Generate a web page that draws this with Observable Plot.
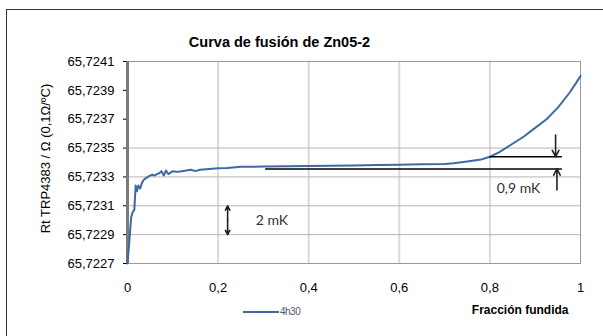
<!DOCTYPE html>
<html>
<head>
<meta charset="utf-8">
<script src="https://cdn.jsdelivr.net/npm/d3@7"></script>
<script src="https://cdn.jsdelivr.net/npm/@observablehq/plot@0.6"></script>
<style>
  html, body { margin: 0; padding: 0; background: #fff; overflow: hidden; }
  body { width: 603px; height: 336px; position: relative; font-family: "Liberation Sans", Arial, sans-serif; }
  #border { position: absolute; left: 6px; top: 9px; width: 800px; height: 500px; border: 1px solid #333; }
  #chart { position: absolute; left: 0; top: 0; }
  #legend { position: absolute; left: 243px; top: 306px; font-size: 10px; color: #556; display: flex; align-items: center; letter-spacing: -0.5px; }
  #legend span.sw { display: inline-block; width: 36px; height: 0; border-top: 2px solid #3d6aa3; margin-right: 1px; }
</style>
</head>
<body>
<div id="border"></div>
<div id="chart"></div>
<div id="legend"><span class="sw"></span><span>4h30</span></div>
<script>
// Melting curve data: melted fraction vs resistance (Ω)
const fraction = [0, 0.004, 0.008, 0.012, 0.015, 0.018, 0.021, 0.024, 0.028, 0.032, 0.036, 0.04, 0.045, 0.05, 0.055, 0.06, 0.065, 0.07, 0.075, 0.08, 0.085, 0.09, 0.095, 0.10, 0.11, 0.12, 0.13, 0.14, 0.15, 0.16, 0.18, 0.20, 0.22, 0.25, 0.28, 0.30, 0.35, 0.40, 0.45, 0.50, 0.55, 0.60, 0.65, 0.70, 0.72, 0.75, 0.78, 0.80, 0.82, 0.85, 0.875, 0.90, 0.925, 0.95, 0.975, 0.99, 1.0];
const resistance = [65.72270, 65.72285, 65.72302, 65.72306, 65.72307, 65.72324, 65.72320, 65.72324, 65.72322, 65.72326, 65.72328, 65.72329, 65.72330, 65.72331, 65.723315, 65.72331, 65.72332, 65.723325, 65.72334, 65.72331, 65.723345, 65.72332, 65.72333, 65.72334, 65.723335, 65.72334, 65.723345, 65.72335, 65.72334, 65.72335, 65.723355, 65.72336, 65.723362, 65.72337, 65.72337, 65.723372, 65.723374, 65.723376, 65.723378, 65.72338, 65.723383, 65.723385, 65.723388, 65.72339, 65.723395, 65.723407, 65.72342, 65.72344, 65.72347, 65.72353, 65.72358, 65.72364, 65.72370, 65.72378, 65.72388, 65.72395, 65.72400];

const yTicks = [65.7227, 65.7229, 65.7231, 65.7233, 65.7235, 65.7237, 65.7239, 65.7241];
const yGrid = [65.7229, 65.7231, 65.7233, 65.7235];
const xTicks = [0, 0.2, 0.4, 0.6, 0.8, 1];
const xGrid = [0.2, 0.4, 0.6, 0.8];

const titleText = "Curva de fusión de Zn05-2";
const yLabel = "Rt TRP4383 / Ω (0,1Ω/ºC)";
const xLabel = "Fracción fundida";
const seriesName = "4h30";

// annotations
const refLines = [
  {x1: 0.305, x2: 0.96, y: 65.723355},
  {x1: 0.80, x2: 0.96, y: 65.72344}
];
const arrows = [
  {x1: 0.945, y1: 65.72359, x2: 0.945, y2: 65.72344},
  {x1: 0.948, y1: 65.72321, x2: 0.948, y2: 65.723355},
  {x1: 0.221, y1: 65.7230, x2: 0.221, y2: 65.7231},
  {x1: 0.221, y1: 65.7230, x2: 0.221, y2: 65.7229}
];
const notes = [
  {x: 0.815, y: 65.72322, text: "0,9 mK"},
  {x: 0.283, y: 65.72300, text: "2 mK"}
];

const data = fraction.map((f, i) => ({f, r: resistance[i]}));
const fmt = d => d.toFixed(4).replace(".", ",");
const fmtX = d => String(d).replace(".", ",");

const chart = Plot.plot({
  width: 603,
  height: 336,
  marginLeft: 127,
  marginRight: 23,
  marginTop: 61,
  marginBottom: 73,
  style: {fontFamily: "Liberation Sans, Arial, sans-serif", fontSize: "12px", color: "#000", background: "transparent"},
  x: {domain: [0, 1]},
  y: {domain: [65.7227, 65.7241]},
  marks: [
    Plot.ruleX(xGrid, {stroke: "#d9d9d9", strokeWidth: 2, strokeOpacity: 1}),
    Plot.ruleY(yGrid, {stroke: "#b5b5b5", strokeWidth: 1}),
    Plot.frame({stroke: "#999", strokeWidth: 1}),
    Plot.axisY({ticks: yTicks, tickFormat: fmt, tickSize: 4, tickPadding: 9, label: null, fontSize: 13}),
    Plot.axisX({ticks: xTicks, tickFormat: fmtX, tickSize: 0, tickPadding: 19, label: null, fontSize: 13}),
    Plot.ruleX([0], {stroke: "#7a7a7a", strokeWidth: 3}),
    Plot.line(data, {x: "f", y: "r", stroke: "#3d6aa3", strokeWidth: 2}),
    Plot.ruleY(refLines, {x1: "x1", x2: "x2", y: "y", stroke: "#000", strokeWidth: 1.5}),
    Plot.arrow(arrows, {x1: "x1", y1: "y1", x2: "x2", y2: "y2", stroke: "#222", strokeWidth: 1.6, headLength: 8, headAngle: 55}),
    Plot.text(notes, {x: "x", y: "y", text: "text", textAnchor: "start", fontSize: 14, fill: "#333", fontFamily: "Lato, sans-serif"}),
    Plot.text([titleText], {frameAnchor: "top-left", dx: 152, dy: -25, text: d => d, textAnchor: "middle", fontSize: 14.5, fontWeight: "bold", fill: "#000"}),
    Plot.text([yLabel], {frameAnchor: "left", dx: -82, dy: -4, text: d => d, rotate: -90, textAnchor: "middle", fontSize: 13, fill: "#000"}),
    Plot.text([xLabel], {frameAnchor: "bottom-right", dx: -12, dy: 50, text: d => d, textAnchor: "end", fontSize: 12, fontWeight: "bold", fill: "#000"})
  ]
});
document.getElementById("chart").appendChild(chart);
</script>
</body>
</html>
